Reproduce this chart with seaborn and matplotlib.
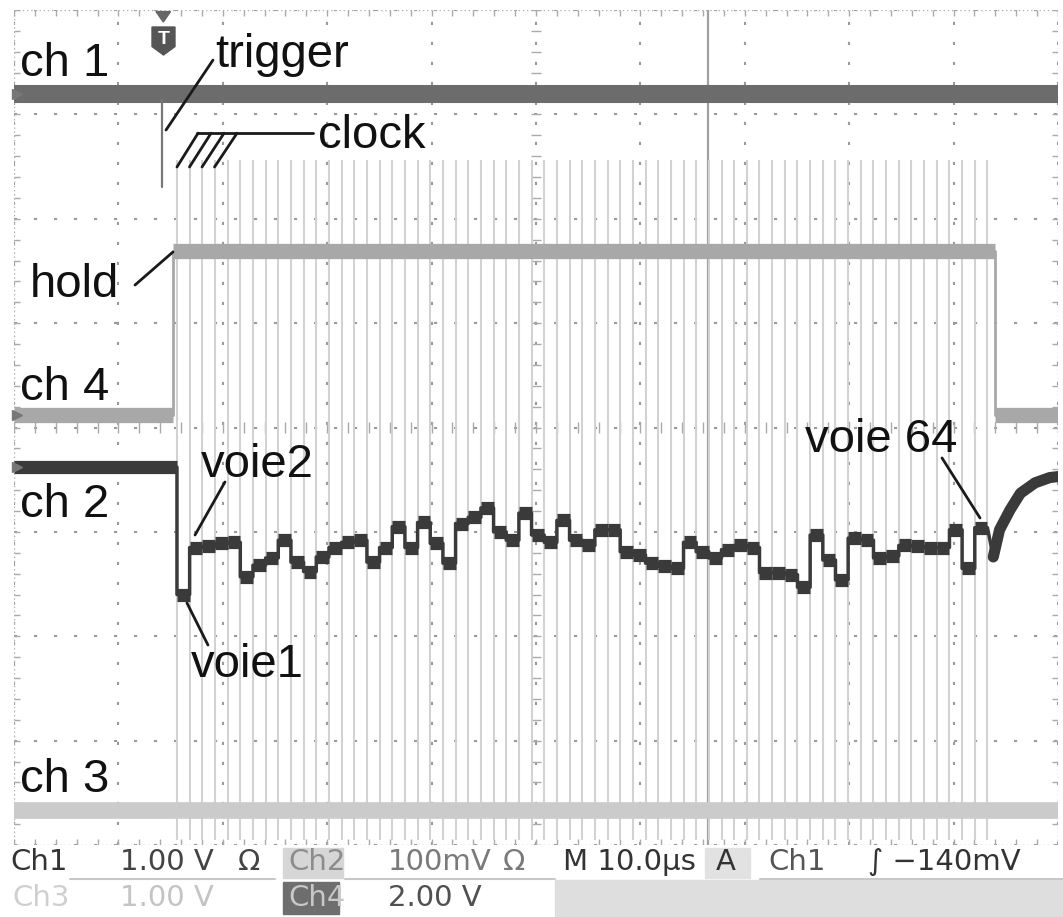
import matplotlib.pyplot as plt
import matplotlib.patches as mpatches
import numpy as np
import pandas as pd
import seaborn as sns

# oscilloscope screen: 10 x 8 divisions (M 10.0us/div)
ch1_level = 7.20
ch4_low = 4.12
ch4_high = 5.69
ch4_rise = 1.523
ch4_fall = 9.40
ch3_level = 0.335
trigger_pos = 1.418
cursor_pos = 6.65

# clock pulses (ch3), one per channel
n_channels = 64
clock_start = 1.561
clock_period = 0.1213
clock_top = 6.56
clock_bottom = 0.05

# ch2: level before trigger, then one level per channel (voie 1..64), then recovery
ch2_pre_level = 3.62
ch2_voie = [2.40, 2.85, 2.86, 2.89, 2.90, 2.57, 2.68, 2.75, 2.92, 2.71,
            2.62, 2.76, 2.85, 2.90, 2.92, 2.71, 2.85, 3.05, 2.85, 3.09,
            2.89, 2.70, 3.08, 3.14, 3.23, 3.00, 2.92, 3.18, 2.97, 2.90,
            3.11, 2.92, 2.87, 3.02, 3.02, 2.81, 2.78, 2.70, 2.67, 2.65,
            2.90, 2.81, 2.75, 2.83, 2.87, 2.85, 2.61, 2.61, 2.59, 2.47,
            2.97, 2.73, 2.54, 2.94, 2.92, 2.75, 2.77, 2.87, 2.86, 2.85,
            2.85, 3.02, 2.65, 3.04]
ch2_tail_t = [9.38, 9.44, 9.54, 9.64, 9.78, 9.92, 10.0]
ch2_tail_v = [2.76, 3.02, 3.21, 3.37, 3.47, 3.52, 3.53]

labels = {
    "ch 1": (0.057, 7.37), "trigger": (1.925, 7.45), "clock": (2.91, 6.68),
    "hold": (0.153, 5.25), "ch 4": (0.057, 4.26), "ch 2": (0.057, 3.14),
    "voie2": (1.79, 3.525), "voie1": (1.695, 1.61), "voie 64": (7.577, 3.765),
    "ch 3": (0.057, 0.508),
}

# build traces
seg_start = clock_start + clock_period * np.arange(n_channels)
seg_end = seg_start + clock_period
t2 = [0.0, clock_start]
v2 = [ch2_pre_level, ch2_pre_level]
for s, e, lvl in zip(seg_start, seg_end, ch2_voie):
    t2 += [s, e]
    v2 += [lvl, lvl]
t2 += ch2_tail_t
v2 += ch2_tail_v
ch2 = pd.DataFrame({"t": t2, "v": v2})
tail = pd.DataFrame({"t": ch2_tail_t, "v": ch2_tail_v})

ch4 = pd.DataFrame({"t": [0, ch4_rise, ch4_rise, ch4_fall, ch4_fall, 10],
                    "v": [ch4_low, ch4_low, ch4_high, ch4_high, ch4_low, ch4_low]})
ch1 = pd.DataFrame({"t": [0, 10], "v": [ch1_level, ch1_level]})
ch3 = pd.DataFrame({"t": [0, 10], "v": [ch3_level, ch3_level]})
clock_t = clock_start + clock_period * np.arange(n_channels + 1)

sns.set_theme(style="white")
plt.rcParams['font.family'] = ['Liberation Sans', 'DejaVu Sans']

fig = plt.figure(figsize=(10.63, 9.17), dpi=100)
ax = fig.add_axes([14 / 1063, 72 / 917, 1044 / 1063, 835 / 917])
ax.set_xlim(0, 10)
ax.set_ylim(0, 8)
ax.set_axis_off()

# graticule
for gx in range(0, 11):
    ax.plot([gx, gx], [0, 8], color="#9a9a9a", lw=1.5, ls=(0, (1.5, 8.1)), zorder=1)
for gy in range(0, 9):
    ax.plot([0, 10], [gy, gy], color="#9a9a9a", lw=1.5, ls=(0, (1.5, 8.1)), zorder=1)
for edge in [0, 10]:
    ax.plot([edge, edge], [0, 8], color="#b0b0b0", lw=1.0, ls=(0, (1, 2)), zorder=1)
for edge in [0, 8]:
    ax.plot([0, 10], [edge, edge], color="#b0b0b0", lw=1.0, ls=(0, (1, 2)), zorder=1)
minor_y = np.arange(0, 8.01, 0.2)
minor_x = np.arange(0, 10.01, 0.2)
ax.hlines(minor_y, 5 - 0.05, 5 + 0.05, color="#aaaaaa", lw=1, zorder=1)
ax.vlines(minor_x, 4 - 0.05, 4 + 0.05, color="#aaaaaa", lw=1, zorder=1)
ax.hlines(minor_y, 0, 0.06, color="#aaaaaa", lw=1, zorder=1)
ax.hlines(minor_y, 9.94, 10, color="#aaaaaa", lw=1, zorder=1)
ax.vlines(minor_x, 0, 0.06, color="#aaaaaa", lw=1, zorder=1)
ax.vlines(minor_x, 7.94, 8, color="#aaaaaa", lw=1, zorder=1)
ax.axvline(cursor_pos, color="#a0a0a0", lw=1.6, zorder=1)

# clock pulses and ch3
ax.vlines(clock_t, clock_bottom, clock_top, color="#d2d2d2", lw=1.5, zorder=2)
sns.lineplot(data=ch3, x="t", y="v", sort=False, estimator=None,
             color="#cbcbcb", linewidth=12, ax=ax, zorder=3)

# ch4 (hold): thin edges, thick band on the flat parts
sns.lineplot(data=ch4, x="t", y="v", sort=False, estimator=None,
             color="#a8a8a8", linewidth=2, ax=ax, zorder=3)
ax.hlines([ch4_low, ch4_high, ch4_low], [0, ch4_rise, ch4_fall], [ch4_rise, ch4_fall, 10],
          color="#a8a8a8", lw=11, zorder=3)

# ch1
sns.lineplot(data=ch1, x="t", y="v", sort=False, estimator=None,
             color="#6c6c6c", linewidth=13, ax=ax, zorder=4)

# ch2: thin transitions, thick band on each channel level
sns.lineplot(data=ch2, x="t", y="v", sort=False, estimator=None,
             color="#3a3a3a", linewidth=2.5, ax=ax, zorder=5)
ax.hlines(ch2_voie, seg_start, seg_end, color="#3a3a3a", lw=9.5, zorder=5)
ax.hlines([ch2_pre_level], [0], [clock_start], color="#3a3a3a", lw=9.5, zorder=5)
sns.lineplot(data=tail, x="t", y="v", sort=False, estimator=None,
             color="#3a3a3a", linewidth=8, ax=ax, zorder=5)
ax.plot([trigger_pos, trigger_pos], [6.30, 7.14], color="#777777", lw=1.6, zorder=4)

# trigger marker
ax.add_patch(mpatches.Polygon([(1.36, 7.985), (1.50, 7.985), (1.43, 7.885)],
                              closed=True, color="#666666", zorder=6, clip_on=False))
ax.add_patch(mpatches.Polygon([(1.322, 7.837), (1.542, 7.837), (1.542, 7.65),
                               (1.432, 7.569), (1.322, 7.65)],
                              closed=True, color="#555555", zorder=6))
ax.text(1.432, 7.715, "T", color="white", fontsize=14, fontweight="bold",
        ha="center", va="center", zorder=7)

# channel markers on the left edge
for lvl in [ch1_level, ch4_low, ch2_pre_level]:
    ax.plot([0.03], [lvl], marker=">", ms=7, color="#777777", clip_on=False, zorder=6)

# labels and leader lines
for txt, (x, y) in labels.items():
    ax.text(x, y, txt, fontsize=34, color="#111111", ha="left", va="baseline", zorder=8)
leaders = [((1.456, 6.85), (1.906, 7.52)), ((1.753, 6.82), (2.864, 6.82)),
           ((1.159, 5.365), (1.523, 5.682)), ((1.734, 2.970), (2.021, 3.478)),
           ((1.657, 2.318), (1.858, 1.916)), ((8.889, 3.708), (9.253, 3.133))]
for k in range(4):
    leaders.append(((1.561 + 0.12 * k, 6.496), (1.763 + 0.1245 * k, 6.82)))
for (x0, y0), (x1, y1) in leaders:
    ax.plot([x0, x1], [y0, y1], color="#1a1a1a", lw=2, zorder=8)

# status bar
sb = fig.add_axes([0, 0, 1, 72 / 917])
sb.set_xlim(0, 1063)
sb.set_ylim(917, 845)
sb.set_axis_off()
sb.add_patch(mpatches.Rectangle((283, 848), 60, 30, color="#d6d6d6"))
sb.add_patch(mpatches.Rectangle((705, 848), 45, 30, color="#e2e2e2"))
sb.add_patch(mpatches.Rectangle((283, 882), 56, 32, color="#6e6e6e"))
sb.add_patch(mpatches.Rectangle((555, 880), 508, 37, color="#dedede"))
for x0, x1 in [(70, 275), (345, 555), (760, 1063)]:
    sb.plot([x0, x1], [879, 879], color="#c8c8c8", lw=1.5)
row1 = [(10, "Ch1", "#333333"), (120, "1.00 V", "#444444"), (238, "Ω", "#444444"),
        (288, "Ch2", "#8c8c8c"), (388, "100mV", "#7a7a7a"), (503, "Ω", "#7a7a7a"),
        (563, "M 10.0µs", "#333333"), (716, "A", "#333333"), (768, "Ch1", "#555555"),
        (868, "∫ −140mV", "#333333")]
row2 = [(12, "Ch3", "#cfcfcf"), (120, "1.00 V", "#c4c4c4"),
        (288, "Ch4", "#c8c8c8"), (388, "2.00 V", "#505050")]
status_font = ["Liberation Sans Narrow", "DejaVu Sans"]
for x, txt, c in row1:
    sb.text(x, 862, txt, color=c, fontsize=21, family=status_font, ha="left", va="center")
for x, txt, c in row2:
    sb.text(x, 898, txt, color=c, fontsize=21, family=status_font, ha="left", va="center")

fig.savefig("out.png", dpi=100, facecolor="white")
